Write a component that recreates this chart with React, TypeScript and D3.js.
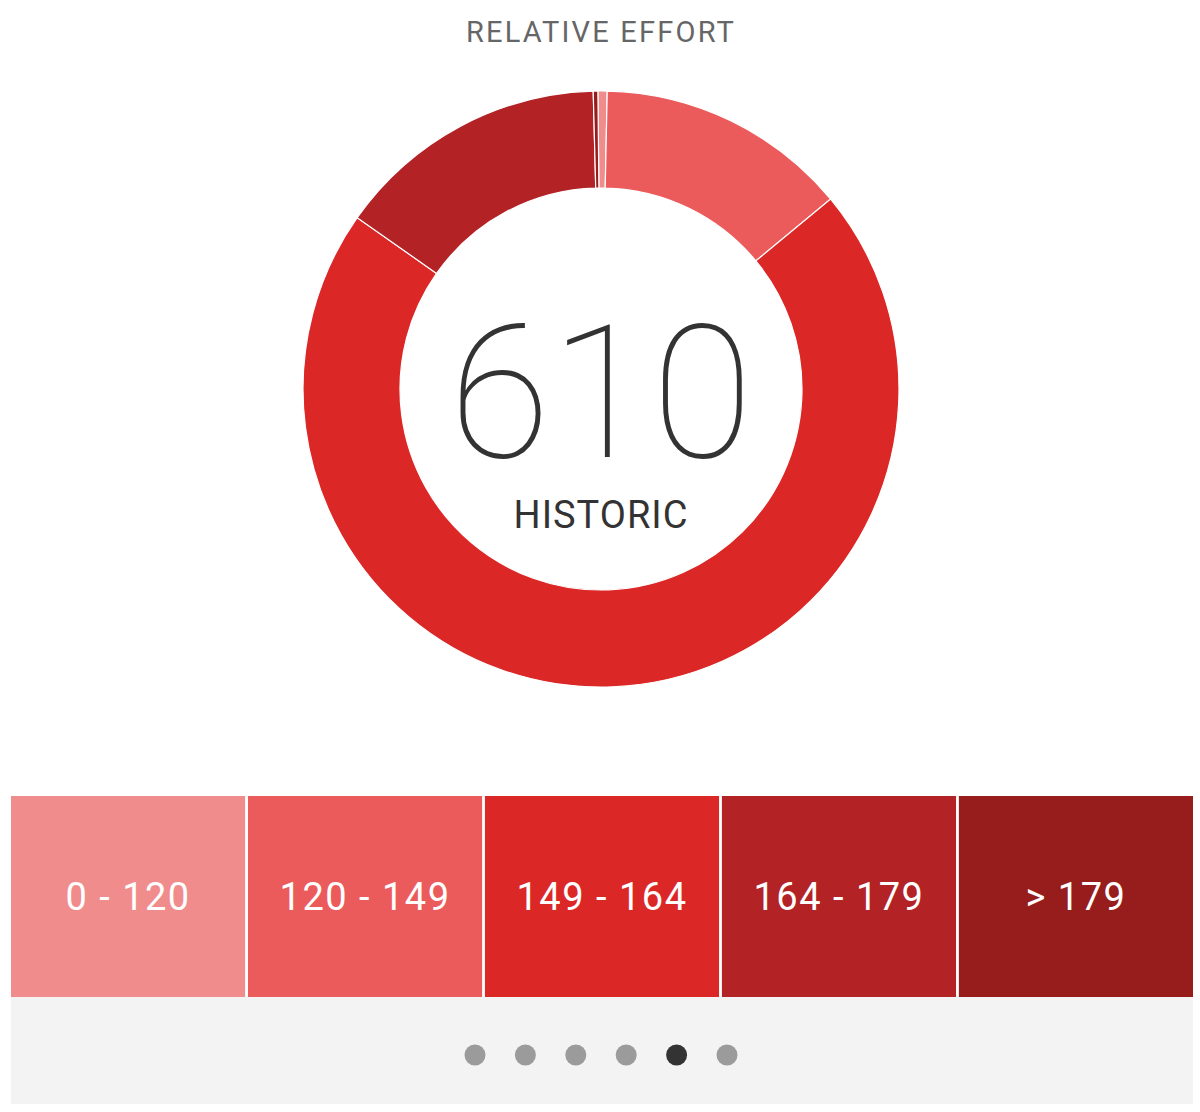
import React, { useEffect, useRef } from 'react';
import * as d3 from 'd3';

// time in each heart-rate zone (minutes)
const zoneLabels = ['0 - 120', '120 - 149', '149 - 164', '164 - 179', '> 179'];
const zoneMinutes = [0.6, 16.4, 84.9, 17.8, 0.3];
const zoneColors = ['#F08C8C', '#EC5B5C', '#DC2727', '#B32225', '#971C1C'];

const titleText = 'RELATIVE EFFORT';
const scoreValue = 610;
const scoreLabel = 'HISTORIC';

const pageDots = [0, 1, 2, 3, 4, 5];
const activeDot = 4;

const App = () => {
  const ref = useRef<SVGSVGElement>(null);

  useEffect(() => {
    if (!ref.current) return;
    const svg = d3.select(ref.current);
    svg.selectAll('*').remove();

    const W = 1200;
    const cx = 601, cy = 389;
    const outerR = 298, innerR = 201;
    const font = 'Roboto, "Helvetica Neue", "Liberation Sans", sans-serif';

    // title
    svg.append('text')
      .attr('x', cx)
      .attr('y', 42)
      .attr('text-anchor', 'middle')
      .attr('font-family', font)
      .attr('font-size', 29)
      .attr('letter-spacing', 2.2)
      .attr('fill', '#666')
      .text(titleText);

    // 1) DONUT
    const start = (-0.6 * Math.PI) / 180;
    const pie = d3.pie<number>()
      .sort(null)
      .startAngle(start)
      .endAngle(start + 2 * Math.PI);
    const arc = d3.arc<d3.PieArcDatum<number>>()
      .innerRadius(innerR)
      .outerRadius(outerR);

    const g = svg.append('g').attr('transform', `translate(${cx},${cy})`);
    g.selectAll('path')
      .data(pie(zoneMinutes))
      .enter()
      .append('path')
      .attr('d', arc)
      .attr('fill', (d, i) => zoneColors[i])
      .attr('stroke', '#fff')
      .attr('stroke-width', 1.2);

    g.append('text')
      .attr('x', 0)
      .attr('y', 457 - cy)
      .attr('text-anchor', 'middle')
      .attr('font-family', font)
      .attr('font-weight', 100)
      .attr('font-size', 185)
      .attr('fill', '#333')
      .text(scoreValue);

    g.append('text')
      .attr('x', 0)
      .attr('y', 528 - cy)
      .attr('text-anchor', 'middle')
      .attr('font-family', font)
      .attr('font-size', 38)
      .attr('letter-spacing', 1)
      .attr('fill', '#333')
      .text(scoreLabel);

    // 2) LEGEND BOXES
    const legendTop = 796, legendBottom = 997;
    const x = d3.scaleBand<string>()
      .domain(zoneLabels)
      .range([11, 1193])
      .paddingInner(0.012);

    const legend = svg.append('g');
    legend.selectAll('rect')
      .data(zoneLabels)
      .enter()
      .append('rect')
      .attr('x', d => x(d) || 0)
      .attr('y', legendTop)
      .attr('width', x.bandwidth())
      .attr('height', legendBottom - legendTop)
      .attr('fill', (d, i) => zoneColors[i]);

    legend.selectAll('text')
      .data(zoneLabels)
      .enter()
      .append('text')
      .attr('x', d => (x(d) || 0) + x.bandwidth() / 2)
      .attr('y', 910)
      .attr('text-anchor', 'middle')
      .attr('font-family', font)
      .attr('font-size', 38)
      .attr('letter-spacing', 1.5)
      .attr('fill', '#fff')
      .text(d => d);

    // 3) PAGER FOOTER
    svg.append('rect')
      .attr('x', 11)
      .attr('y', legendBottom)
      .attr('width', 1182)
      .attr('height', 107)
      .attr('fill', '#F3F3F3');

    const dx = d3.scalePoint<number>()
      .domain(pageDots)
      .range([475, 727]);
    svg.selectAll('circle.dot')
      .data(pageDots)
      .enter()
      .append('circle')
      .attr('class', 'dot')
      .attr('cx', d => dx(d) || 0)
      .attr('cy', 1055)
      .attr('r', 10.5)
      .attr('fill', d => (d === activeDot ? '#333' : '#9B9B9B'));

    svg.attr('width', W).attr('height', 1112);
  }, []);

  return (
    <svg
      ref={ref}
      width={1200}
      height={1112}
      style={{ position: 'absolute', left: 0, top: 0, background: '#fff' }}
    />
  );
};

export default App;
